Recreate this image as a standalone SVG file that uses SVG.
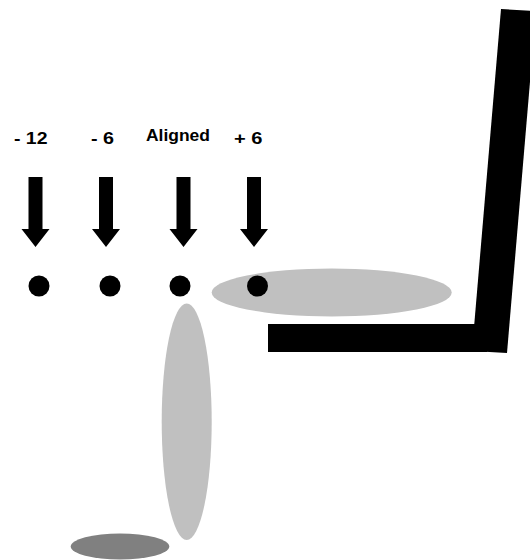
<svg xmlns="http://www.w3.org/2000/svg" width="530" height="560" viewBox="0 0 530 560">
  <style>
    .lbl { font-family: "Liberation Sans", Arial, sans-serif; font-weight: bold; font-size: 17px; fill: #000; }
    .dot { fill: #000; }
    .light { fill: #c0c0c0; }
    .dark { fill: #808080; }
  </style>
  <defs>
    <polygon id="arrow" points="-7,177 7,177 7,229 14,229 0,247 -14,229 -7,229" fill="#000"/>
  </defs>
  <rect width="530" height="560" fill="#fff"/>
  <g id="ellipses">
    <ellipse class="light" cx="331.7" cy="292.5" rx="120" ry="24"/>
    <ellipse class="light" cx="186.7" cy="421.7" rx="25" ry="118.3"/>
    <ellipse class="dark" cx="120" cy="546.5" rx="49.3" ry="13"/>
  </g>
  <g id="frame">
    <polygon points="501,9 536,11 507,353 472,351" fill="#000"/>
    <rect x="268" y="324" width="219" height="28" fill="#000"/>
  </g>
  <g id="labels">
    <text class="lbl" x="14" y="144" textLength="33.5" lengthAdjust="spacingAndGlyphs">- 12</text>
    <text class="lbl" x="91" y="144" textLength="23" lengthAdjust="spacingAndGlyphs">- 6</text>
    <text class="lbl" x="146" y="140.5" textLength="64" lengthAdjust="spacingAndGlyphs">Aligned</text>
    <text class="lbl" x="234" y="144" textLength="28.5" lengthAdjust="spacingAndGlyphs">+ 6</text>
  </g>
  <g id="arrows">
    <use href="#arrow" x="35.5" y="0"/>
    <use href="#arrow" x="106" y="0"/>
    <use href="#arrow" x="183.5" y="0"/>
    <use href="#arrow" x="254" y="0"/>
  </g>
  <g id="dots">
    <circle class="dot" cx="39" cy="286" r="10.5"/>
    <circle class="dot" cx="110" cy="286" r="10.5"/>
    <circle class="dot" cx="180" cy="286" r="10.5"/>
    <circle class="dot" cx="257.5" cy="286" r="10.5"/>
  </g>
</svg>
